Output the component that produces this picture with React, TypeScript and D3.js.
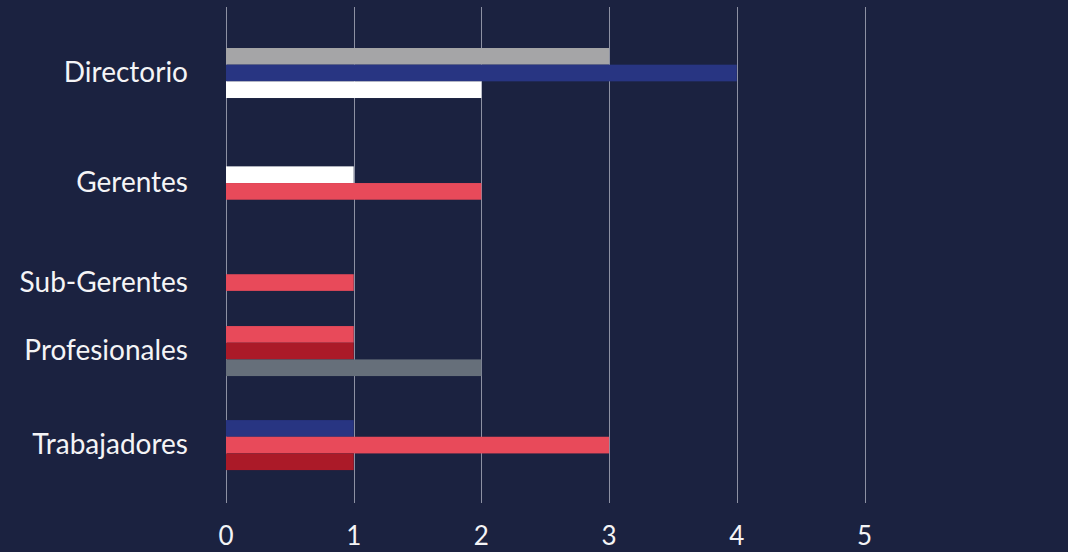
import React from 'react';
import * as d3 from 'd3';

// ---- data ----
const categories = ['Directorio', 'Gerentes', 'Sub-Gerentes', 'Profesionales', 'Trabajadores'];
const seriesKeys = ['s1', 's2', 's3', 's4', 's5', 's6'];
const s1Values: (number | null)[] = [3, null, null, null, null];
const s2Values: (number | null)[] = [4, null, null, null, 1];
const s3Values: (number | null)[] = [2, 1, null, null, null];
const s4Values: (number | null)[] = [null, 2, 1, 1, 3];
const s5Values: (number | null)[] = [null, null, null, 1, 1];
const s6Values: (number | null)[] = [null, null, null, 2, null];
const xTicks = [0, 1, 2, 3, 4, 5];

// ---- layout / style ----
const W = 1068;
const H = 552;
const BG = '#1b2240';
const seriesColors = ['#a5a5a7', '#283582', '#ffffff', '#e84a5a', '#ab1a28', '#666f7a'];
const groupCenterRows = [3.9, 10.5, 16.47, 20.58, 26.22];
const ROW_PX = 16.67;

export default function App() {
  const allSeries = [s1Values, s2Values, s3Values, s4Values, s5Values, s6Values];
  const x = d3.scaleLinear().domain([0, 5]).range([226, 864.5]);
  const y = d3.scaleLinear().domain([0, 1]).range([8, 8 + ROW_PX]);
  const bh = y(1) - y(0);

  const bars: { key: string; x0: number; x1: number; y0: number; color: string }[] = [];
  categories.forEach((cat, ci) => {
    const present = seriesKeys
      .map((k, si) => ({ k, si, v: allSeries[si][ci] }))
      .filter((d) => d.v != null);
    const inner = d3
      .scaleBand<number>()
      .domain(present.map((d) => d.si))
      .range([y(groupCenterRows[ci] - present.length / 2), y(groupCenterRows[ci] + present.length / 2)]);
    present.forEach((d) => {
      bars.push({
        key: cat + d.k,
        x0: x(0),
        x1: x(d.v as number),
        y0: inner(d.si) as number,
        color: seriesColors[d.si],
      });
    });
  });

  return (
    <div style={{ position: 'fixed', left: 0, top: 0, width: W, height: H }}>
      <svg width={W} height={H} style={{ display: 'block', background: BG }}>
        <rect x={0} y={0} width={W} height={H} fill={BG} />
        {xTicks.map((t) => (
          <line
            key={'g' + t}
            x1={Math.round(x(t)) + 0.5}
            x2={Math.round(x(t)) + 0.5}
            y1={7}
            y2={503}
            stroke="#8d91a3"
            strokeWidth={1}
          />
        ))}
        {bars.map((b) => (
          <rect key={b.key} x={b.x0} y={b.y0} width={b.x1 - b.x0} height={bh} fill={b.color} />
        ))}
        {categories.map((c, ci) => (
          <text
            key={c}
            x={188}
            y={y(groupCenterRows[ci]) - 2}
            textAnchor="end"
            dominantBaseline="central"
            fill="#f4f4f6"
            fontFamily="Lato, 'Noto Sans', sans-serif"
            fontSize={28}
          >
            {c}
          </text>
        ))}
        {xTicks.map((t) => (
          <text
            key={'t' + t}
            x={x(t)}
            y={535}
            textAnchor="middle"
            dominantBaseline="central"
            fill="#f4f4f6"
            fontFamily="Lato, 'Noto Sans', sans-serif"
            fontSize={26}
          >
            {t}
          </text>
        ))}
      </svg>
    </div>
  );
}
